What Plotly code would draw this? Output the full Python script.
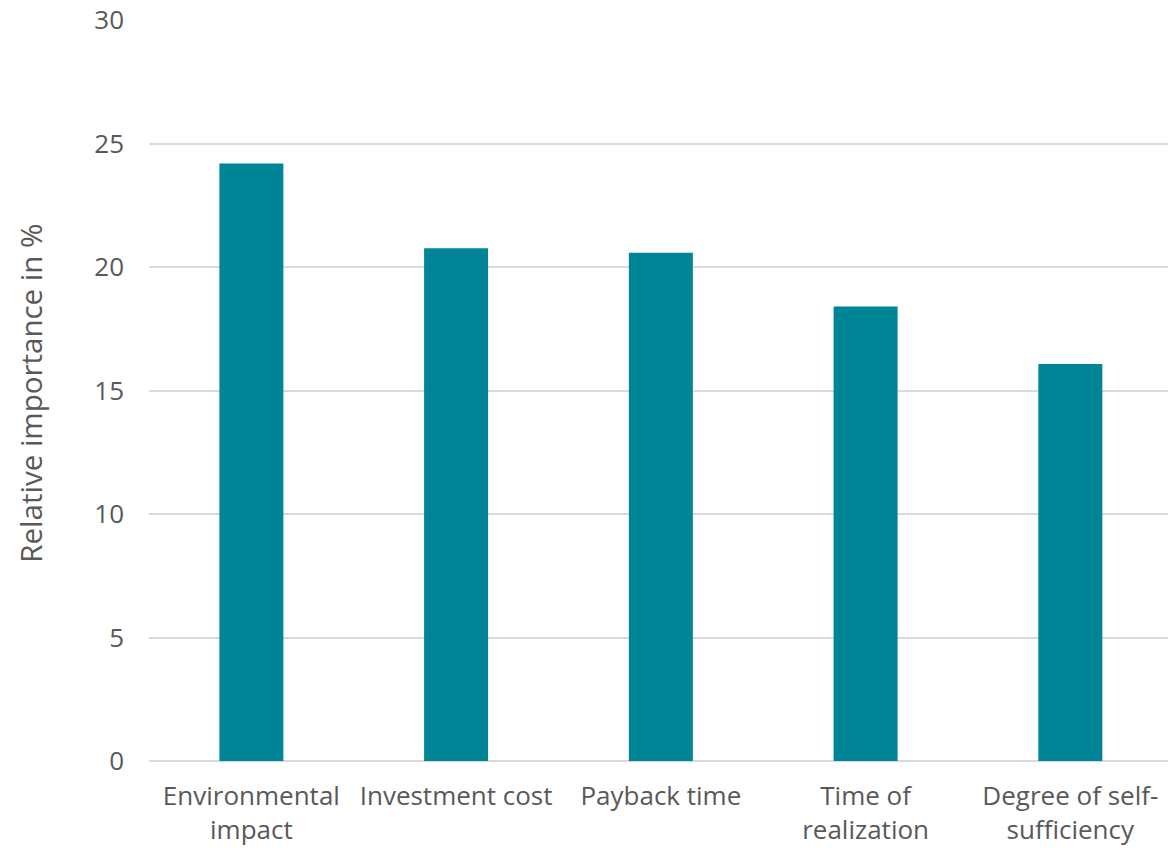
import plotly.graph_objects as go

# Relative importance of each decision criterion (percent)
categories = [
    "Environmental<br>impact",
    "Investment cost",
    "Payback time",
    "Time of<br>realization",
    "Degree of self-<br>sufficiency",
]
importance = [24.19, 20.76, 20.58, 18.40, 16.07]
y_ticks = [0, 5, 10, 15, 20, 25, 30]

FONT = "Open Sans"
TEXT_COLOR = "#595959"
BAR_COLOR = "#008596"
GRID_COLOR = "#d9d9d9"

fig = go.Figure(
    go.Bar(
        x=list(range(len(categories))),
        y=importance,
        width=0.3126,
        marker=dict(color=BAR_COLOR, line=dict(width=0)),
        hoverinfo="skip",
    )
)

fig.update_layout(
    width=1168,
    height=848,
    margin=dict(l=149, r=0, t=20, b=87, pad=0),
    paper_bgcolor="white",
    plot_bgcolor="white",
    showlegend=False,
    font=dict(family=FONT, size=26, color=TEXT_COLOR),
    xaxis=dict(
        tickmode="array",
        tickvals=list(range(len(categories))),
        ticktext=categories,
        range=[-0.5, 4.477],
        showgrid=False,
        zeroline=False,
        showline=False,
        ticks="",
        ticklabelstandoff=17,
        tickfont=dict(family=FONT, size=26, color=TEXT_COLOR),
    ),
    yaxis=dict(
        range=[0, 30],
        tickvals=y_ticks,
        showgrid=True,
        gridcolor=GRID_COLOR,
        gridwidth=1.5,
        zeroline=True,
        zerolinecolor=GRID_COLOR,
        zerolinewidth=1.5,
        showline=False,
        ticks="",
        ticklabelstandoff=24,
        tickfont=dict(family=FONT, size=26, color=TEXT_COLOR),
    ),
    annotations=[
        dict(
            text="Relative importance in %",
            xref="paper",
            yref="paper",
            x=-149 / 1019,
            xanchor="left",
            y=(760.7 - 393) / 740.7,
            yanchor="middle",
            textangle=-90,
            showarrow=False,
            xshift=8,
            font=dict(family=FONT, size=29.5, color=TEXT_COLOR),
        )
    ],
)

fig.write_html("out.html")
